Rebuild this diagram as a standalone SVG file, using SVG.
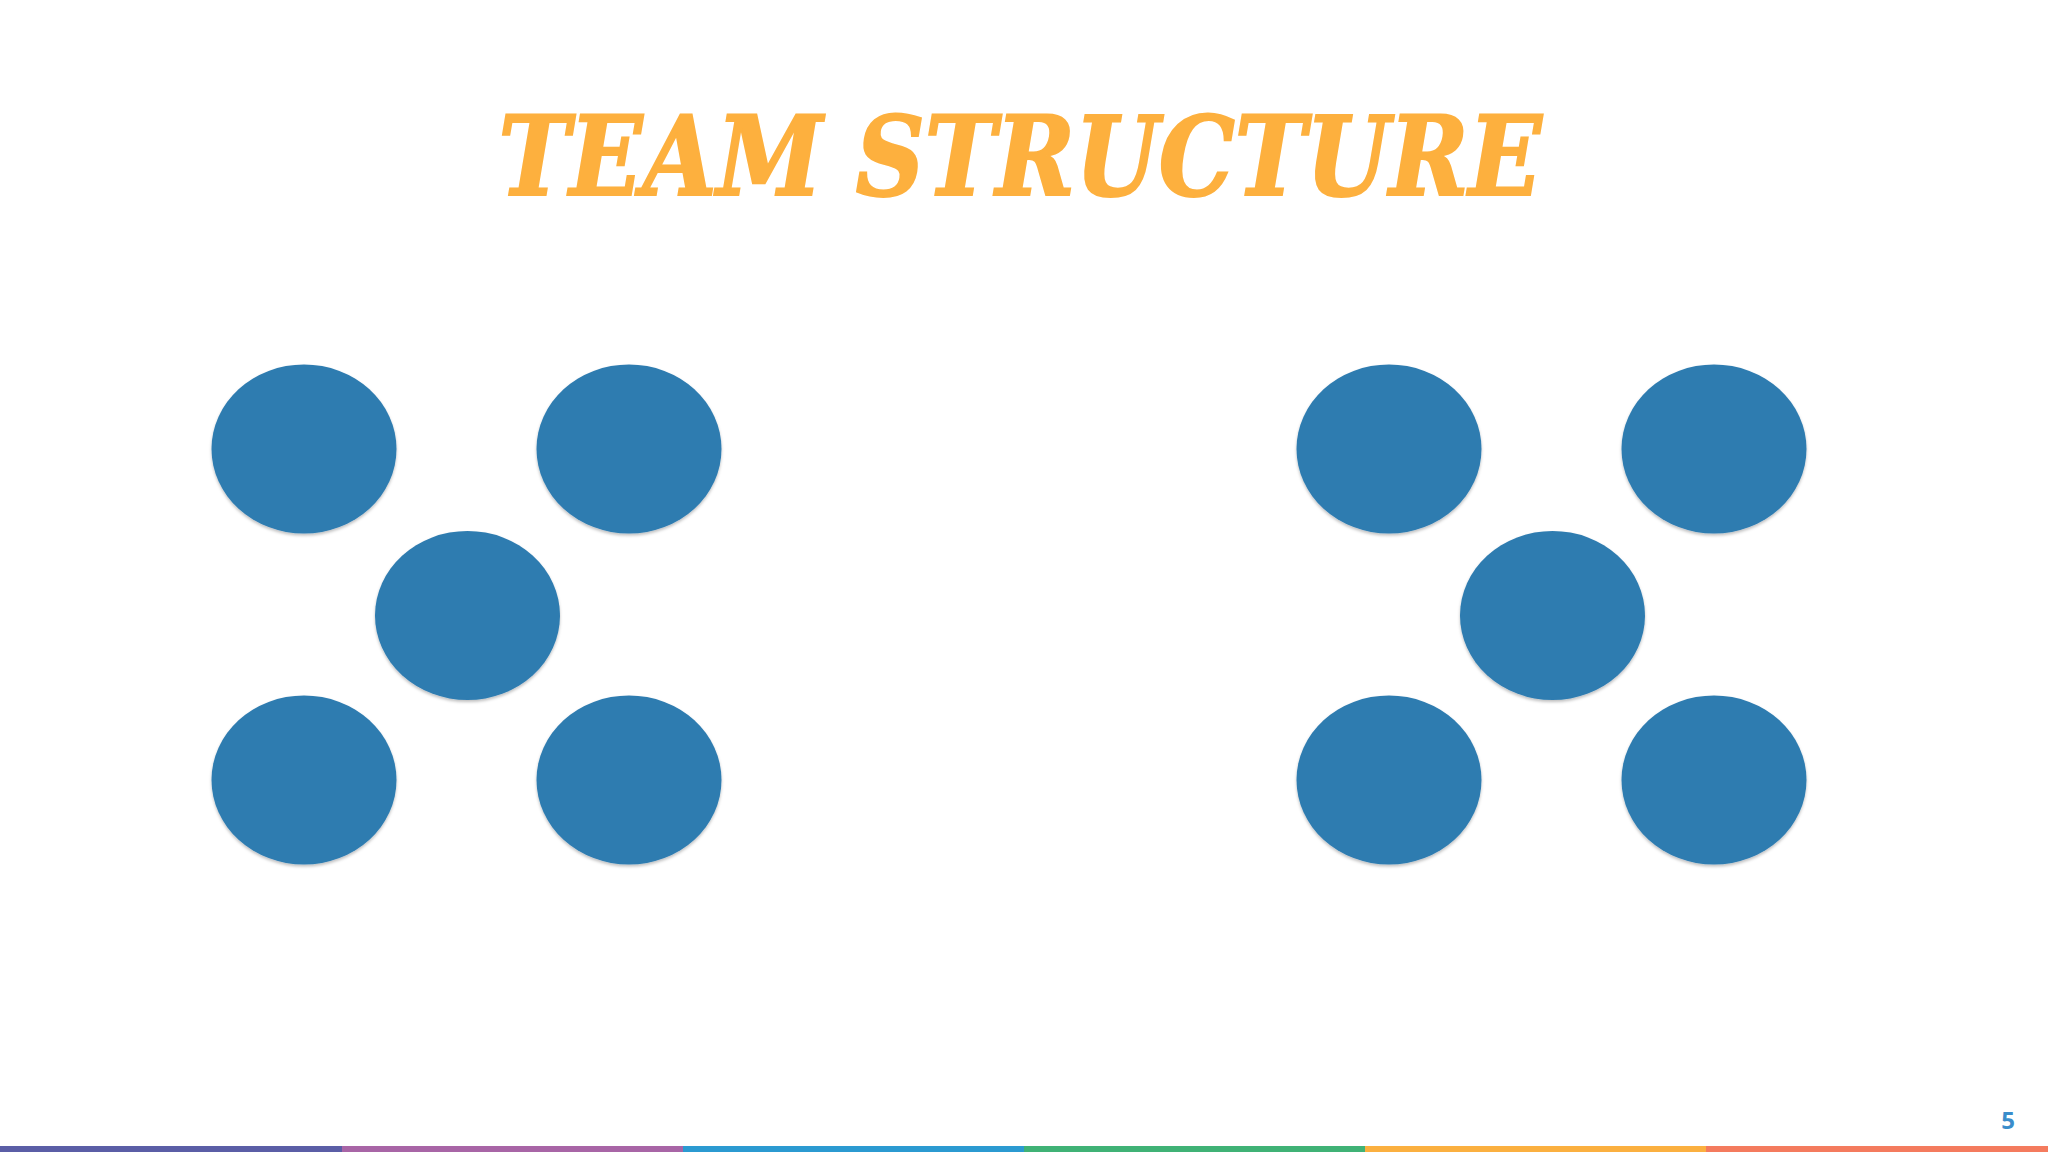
<svg xmlns="http://www.w3.org/2000/svg" width="2048" height="1152" viewBox="0 0 2048 1152">
  <style>
    .title { font-family: "DejaVu Serif Condensed", "DejaVu Serif", serif; font-weight: bold; font-style: italic; font-size: 110px; fill: #FDB03E; stroke: #FDB03E; stroke-width: 2; stroke-linejoin: miter; }
    .dot { fill: #2F7CB0; filter: url(#shadow); }
    .pnum { font-family: "Open Sans", "Liberation Sans", sans-serif; font-weight: bold; font-size: 24px; fill: #3A8DCB; }
  </style>
  <defs>
    <filter id="shadow" x="-10%" y="-10%" width="120%" height="125%">
      <feDropShadow dx="0" dy="2" stdDeviation="1.5" flood-color="#000" flood-opacity="0.25"/>
    </filter>
  </defs>
  <rect width="2048" height="1152" fill="#FFFFFF"/>
  <text class="title" x="1020" y="195" text-anchor="middle" textLength="1043" lengthAdjust="spacingAndGlyphs">TEAM STRUCTURE</text>

  <g id="left-group">
    <g id="l1"><ellipse class="dot" cx="304" cy="449" rx="92.5" ry="84.5"/></g>
    <g id="l2"><ellipse class="dot" cx="629" cy="449" rx="92.5" ry="84.5"/></g>
    <g id="l3"><ellipse class="dot" cx="467.5" cy="615.5" rx="92.5" ry="84.5"/></g>
    <g id="l4"><ellipse class="dot" cx="304" cy="780" rx="92.5" ry="84.5"/></g>
    <g id="l5"><ellipse class="dot" cx="629" cy="780" rx="92.5" ry="84.5"/></g>
  </g>
  <g id="right-group">
    <g id="r1"><ellipse class="dot" cx="1389" cy="449" rx="92.5" ry="84.5"/></g>
    <g id="r2"><ellipse class="dot" cx="1714" cy="449" rx="92.5" ry="84.5"/></g>
    <g id="r3"><ellipse class="dot" cx="1552.5" cy="615.5" rx="92.5" ry="84.5"/></g>
    <g id="r4"><ellipse class="dot" cx="1389" cy="780" rx="92.5" ry="84.5"/></g>
    <g id="r5"><ellipse class="dot" cx="1714" cy="780" rx="92.5" ry="84.5"/></g>
  </g>
  <g id="connectors"></g>

  <text class="pnum" x="2008" y="1129" text-anchor="middle">5</text>

  <g id="bottom-bar">
    <rect x="0" y="1146" width="342" height="6" fill="#5B5EA6"/>
    <rect x="342" y="1146" width="341" height="6" fill="#A865A6"/>
    <rect x="683" y="1146" width="341" height="6" fill="#2B9AD1"/>
    <rect x="1024" y="1146" width="341" height="6" fill="#40B276"/>
    <rect x="1365" y="1146" width="341" height="6" fill="#FBB040"/>
    <rect x="1706" y="1146" width="342" height="6" fill="#F47B5E"/>
  </g>
</svg>
